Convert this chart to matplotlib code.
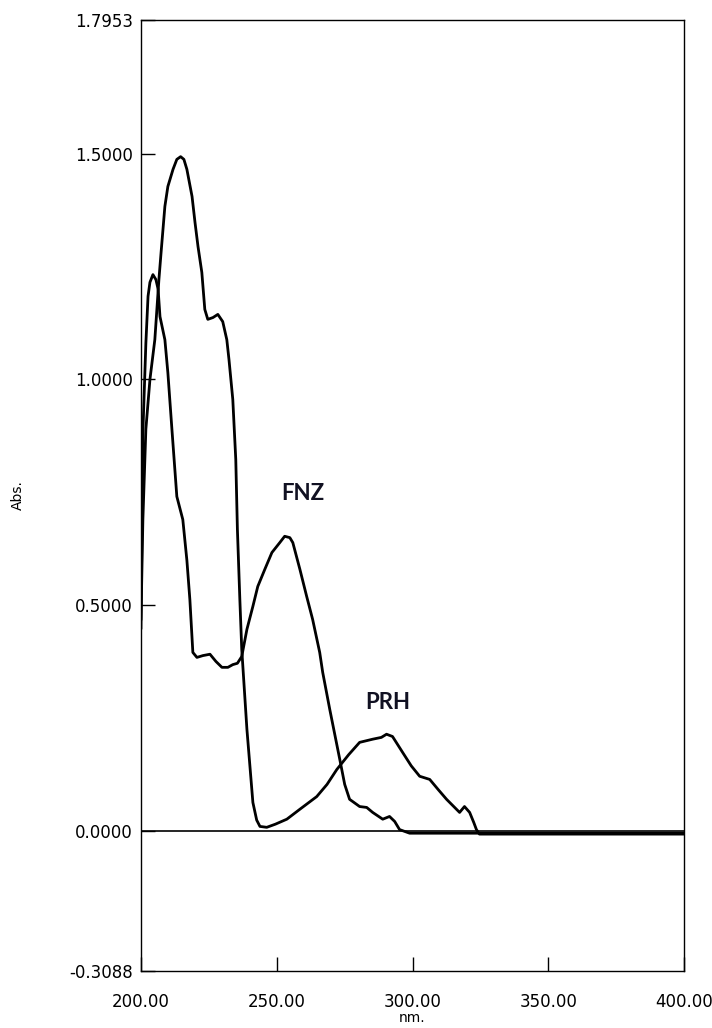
import matplotlib
matplotlib.use("Agg")
import matplotlib.pyplot as plt
from matplotlib.ticker import FixedLocator, FormatStrFormatter

# PRH trace: tall peak at ~215 nm, then the small band near 290 nm
prh_nm = [200.0, 200.7, 201.8, 203.3, 205.1, 206.6, 207.4, 208.1, 208.8, 209.9,
          211.8, 213.2, 214.6, 215.8, 216.9, 218.8, 219.9, 221.0, 222.4, 223.5,
          224.6, 226.5, 228.3, 230.1, 231.6, 232.4, 233.8, 234.9, 235.5, 236.4,
          237.1, 239.0, 241.2, 242.6, 243.8, 246.3, 249.5, 253.7, 258.5, 264.7,
          268.5, 272.1, 276.5, 280.5, 285.3, 288.5, 290.4, 292.6, 296.3, 299.5,
          302.6, 306.3, 309.5, 312.5, 317.3, 319.1, 321.0, 322.5, 323.5, 324.6,
          350.0, 375.0, 400.0]
prh_abs = [0.47, 0.69, 0.89, 1.00, 1.088, 1.221, 1.281, 1.332, 1.383, 1.427,
           1.465, 1.487, 1.493, 1.487, 1.465, 1.405, 1.347, 1.294, 1.237, 1.155,
           1.133, 1.137, 1.144, 1.128, 1.088, 1.044, 0.956, 0.823, 0.668, 0.513,
           0.403, 0.226, 0.064, 0.025, 0.011, 0.009, 0.016, 0.027, 0.049, 0.077,
           0.104, 0.137, 0.170, 0.197, 0.204, 0.208, 0.215, 0.210, 0.175, 0.145,
           0.122, 0.115, 0.092, 0.071, 0.042, 0.055, 0.042, 0.020, 0.004, -0.006,
           -0.006, -0.006, -0.006]

# FNZ trace: sharp peak at ~205 nm, band at ~254 nm
fnz_nm = [200.0, 200.7, 201.8, 202.6, 203.3, 204.4, 205.5, 206.3, 207.0, 208.8,
          209.9, 211.4, 213.2, 215.4, 216.9, 218.0, 219.1, 220.6, 222.8, 225.4,
          227.6, 229.8, 232.0, 233.8, 235.5, 237.1, 239.0, 241.2, 243.0, 245.6,
          248.2, 251.1, 252.9, 254.8, 255.9, 258.5, 261.0, 263.2, 265.8, 266.9,
          269.5, 273.2, 275.0, 276.8, 280.5, 283.1, 285.3, 289.0, 291.5, 293.4,
          295.2, 298.9, 350.0, 400.0]
fnz_abs = [0.45, 0.883, 1.08, 1.184, 1.215, 1.232, 1.221, 1.200, 1.139, 1.088,
           1.015, 0.889, 0.741, 0.69, 0.60, 0.513, 0.396, 0.385, 0.389, 0.392,
           0.376, 0.363, 0.363, 0.369, 0.372, 0.387, 0.447, 0.498, 0.542, 0.580,
           0.617, 0.639, 0.653, 0.650, 0.639, 0.580, 0.520, 0.469, 0.396, 0.352,
           0.270, 0.159, 0.104, 0.071, 0.055, 0.053, 0.042, 0.027, 0.033, 0.022,
           0.004, -0.004, -0.004, -0.004]

y_ticks = [-0.3088, 0.0, 0.5, 1.0, 1.5, 1.7953]
x_ticks = [200, 250, 300, 350, 400]

fig = plt.figure(figsize=(7.12, 10.28), dpi=100)
ax = fig.add_axes([0.198, 0.0555, 0.763, 0.925])

ax.axhline(0, color="black", lw=1.2)
ax.plot(prh_nm, prh_abs, color="black", lw=2.0, solid_joinstyle="round")
ax.plot(fnz_nm, fnz_abs, color="black", lw=2.0, solid_joinstyle="round")

ax.set_xlim(200, 400)
ax.set_ylim(-0.3088, 1.7953)
ax.xaxis.set_major_locator(FixedLocator(x_ticks))
ax.yaxis.set_major_locator(FixedLocator(y_ticks))
ax.xaxis.set_major_formatter(FormatStrFormatter("%.2f"))
ax.yaxis.set_major_formatter(FormatStrFormatter("%.4f"))
ax.tick_params(direction="in", length=10, width=1, labelsize=12, colors="black")
ax.tick_params(axis="x", pad=16)
ax.tick_params(axis="y", pad=6)
for sp in ax.spines.values():
    sp.set_linewidth(1.0)

ax.text(259.7, 0.748, "FNZ", family="Lato", fontweight="bold", fontsize=16,
        color="#111122", ha="center", va="center")
ax.text(290.8, 0.285, "PRH", family="Lato", fontweight="bold", fontsize=16,
        color="#111122", ha="center", va="center")

fig.text(0.579, 1 - 1018 / 1028, "nm.", fontsize=10, ha="center", va="center")
fig.text(18 / 712, 1 - 495 / 1028, "Abs.", fontsize=10, rotation=90,
         ha="center", va="center")

fig.savefig("out.png", dpi=100)
